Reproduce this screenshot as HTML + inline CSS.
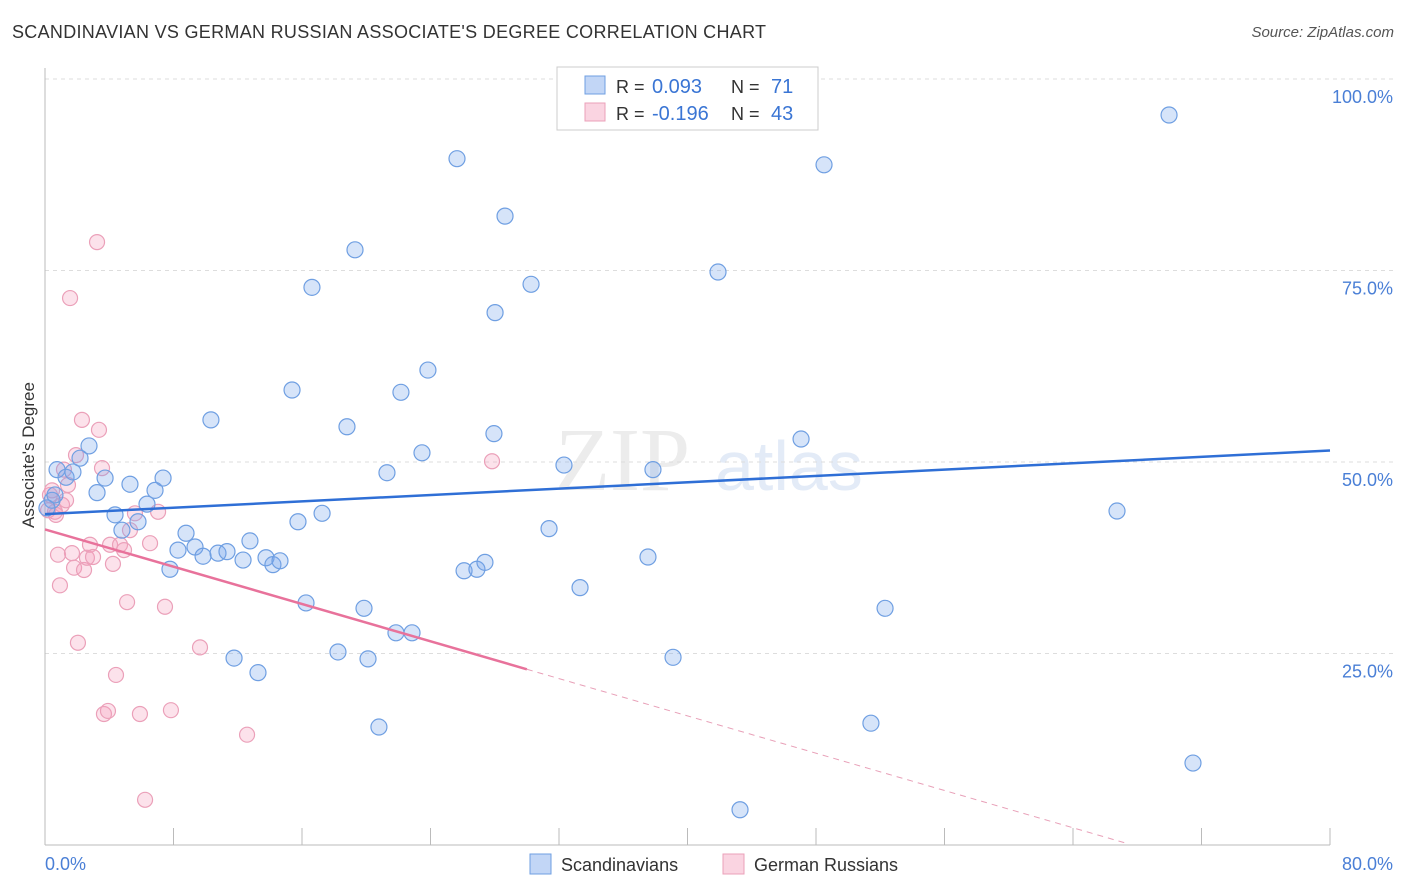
<!DOCTYPE html>
<html><head><meta charset="utf-8"><style>
body{margin:0;background:#fff;font-family:"Liberation Sans",sans-serif;}
#wrap{position:relative;width:1406px;height:892px;overflow:hidden;}
.t{position:absolute;white-space:nowrap;}
</style></head><body>
<div id="wrap">
<div class="t" style="left:12px;top:22px;font-size:18px;color:#333;letter-spacing:0.3px;">SCANDINAVIAN VS GERMAN RUSSIAN ASSOCIATE'S DEGREE CORRELATION CHART</div>
<div class="t" style="right:12px;top:24px;font-size:15px;color:#555;font-style:italic;">Source: ZipAtlas.com</div>
<svg id="svg" width="1406" height="892" style="position:absolute;left:0;top:0"></svg>
</div>
<script>
const xTicks=[0,8,16,24,32,40,48,56,64,72,80];
const yTicks=[25,50,75,100];
const blueX=[];const blueY=[];const pinkX=[];const pinkY=[];
const blueRaw=[[57,470],[66,477],[73,472],[80,458],[89,446],[97,493],[105,478],[115,515],[122,530],[130,484],[138,522],[147,504],[155,490],[163,478],[170,569],[178,550],[186,533],[195,547],[203,556],[211,420],[218,553],[227,552],[234,658],[243,560],[250,541],[258,673],[266,558],[273,565],[280,561],[292,390],[298,522],[306,603],[312,287],[322,513],[338,652],[347,427],[355,250],[364,608],[368,659],[379,727],[387,473],[396,633],[401,392],[412,633],[422,453],[428,370],[457,159],[464,571],[477,569],[485,562],[494,434],[495,313],[505,216],[531,284],[549,529],[564,465],[580,588],[648,557],[653,470],[673,657],[718,272],[740,810],[801,439],[824,165],[871,723],[885,608],[1117,511],[1169,115],[1193,763],[52,500],[47,508],[55,495]];
const pinkRaw=[[50,495],[55,512],[58,555],[62,505],[64,470],[66,500],[68,485],[70,298],[72,553],[74,568],[76,455],[78,643],[82,420],[84,570],[87,558],[90,545],[93,557],[97,242],[99,430],[102,468],[104,714],[108,711],[110,545],[113,564],[116,675],[120,545],[124,550],[127,602],[130,530],[135,513],[140,714],[145,800],[150,543],[158,512],[165,607],[171,710],[200,647],[247,735],[492,461],[48,510],[52,490],[56,515],[60,585]];
blueRaw.forEach(p=>{blueX.push(+((p[0]-45)/1285*80).toFixed(2));blueY.push(+((845-p[1])/766*100).toFixed(1));});
pinkRaw.forEach(p=>{pinkX.push(+((p[0]-45)/1285*80).toFixed(2));pinkY.push(+((845-p[1])/766*100).toFixed(1));});
const blueTrend=[43.2,51.5];const pinkTrend=[41.2,0.3];
const X=v=>45+v/80*1285, Y=v=>845-v/100*766;
const svg=document.getElementById('svg');const NS='http://www.w3.org/2000/svg';
function el(tag,a,p){const e=document.createElementNS(NS,tag);for(const k in a)e.setAttribute(k,a[k]);(p||svg).appendChild(e);return e;}
let w=el('text',{x:555,y:490,'font-size':90,'font-family':'Liberation Serif,serif',fill:'#ececec'});w.textContent='ZIP';


let w2=el('text',{x:715,y:490,'font-size':70,'font-family':'Liberation Sans,sans-serif',fill:'#e3ebf7'});w2.textContent='atlas';


yTicks.forEach(t=>{const g=el('line',{x1:45,x2:1395,y1:Y(t),y2:Y(t),stroke:'#ddd','stroke-dasharray':'4,4'});


const l=el('text',{x:1393,y:Y(t)+24,'text-anchor':'end','font-size':18,fill:'#4a7fd6','font-family':'Liberation Sans,sans-serif'});l.textContent=t.toFixed(1)+'%';

});
let ax=el('line',{x1:45,x2:45,y1:68,y2:845,stroke:'#bbb'});


let bx=el('line',{x1:45,x2:1330,y1:845,y2:845,stroke:'#bbb'});


xTicks.forEach(t=>{const k=el('line',{x1:X(t),x2:X(t),y1:828,y2:845,stroke:'#bbb'});

});
[[0,'start',45],[80,'end',1393]].forEach(a=>{const l=el('text',{x:a[2],y:870,'text-anchor':a[1],'font-size':18,fill:'#4a7fd6','font-family':'Liberation Sans,sans-serif'});l.textContent=a[0].toFixed(1)+'%';

});
let yt=el('text',{x:34,y:455,'text-anchor':'middle','font-size':17,fill:'#333',transform:'rotate(-90 34 455)','font-family':'Liberation Sans,sans-serif'});yt.textContent="Associate's Degree";


pinkX.forEach((x,i)=>{const c=el('circle',{cx:X(x),cy:Y(pinkY[i]),r:7.5,fill:'rgba(244,160,188,0.3)',stroke:'#eba0b9','stroke-width':1.2});

});
blueX.forEach((x,i)=>{const c=el('circle',{cx:X(x),cy:Y(blueY[i]),r:8,fill:'rgba(120,165,235,0.3)',stroke:'#6f9fe2','stroke-width':1.2});

});
let bl=el('line',{x1:X(0),y1:Y(blueTrend[0]),x2:X(80),y2:Y(blueTrend[1]),stroke:'#2f6fd6','stroke-width':2.5});


const pEnd=30,pv=pinkTrend[0]+(pinkTrend[1]-pinkTrend[0])*pEnd/67.2;
let pl=el('line',{x1:X(0),y1:Y(pinkTrend[0]),x2:X(pEnd),y2:Y(pv),stroke:'#e8729b','stroke-width':2.5});


let pd=el('line',{x1:X(pEnd),y1:Y(pv),x2:X(67.2),y2:Y(pinkTrend[1]),stroke:'#e8a0b8','stroke-width':1,'stroke-dasharray':'6,5'});


let lg=el('g',{});


el('rect',{x:557,y:67,width:261,height:63,fill:'#fff',stroke:'#ccc'},lg);
el('rect',{x:585,y:76,width:20,height:18,fill:'rgba(120,165,235,0.45)',stroke:'#6f9fe2'},lg);
el('rect',{x:585,y:103,width:20,height:18,fill:'rgba(244,160,188,0.45)',stroke:'#eba0b9'},lg);
[[93,'0.093','71'],[120,'-0.196','43']].forEach(r=>{
let a=el('text',{x:616,y:r[0],'font-size':18,fill:'#333','font-family':'Liberation Sans,sans-serif'},lg);a.textContent='R = ';
let b=el('text',{x:652,y:r[0],'font-size':20,fill:'#3a75d4','font-family':'Liberation Sans,sans-serif'},lg);b.textContent=r[1];
let c=el('text',{x:731,y:r[0],'font-size':18,fill:'#333','font-family':'Liberation Sans,sans-serif'},lg);c.textContent='N = ';
let d=el('text',{x:771,y:r[0],'font-size':20,fill:'#3a75d4','font-family':'Liberation Sans,sans-serif'},lg);d.textContent=r[2];});
let bl2=el('g',{});


el('rect',{x:530,y:854,width:21,height:20,fill:'rgba(120,165,235,0.45)',stroke:'#6f9fe2'},bl2);
el('rect',{x:723,y:854,width:21,height:20,fill:'rgba(244,160,188,0.45)',stroke:'#eba0b9'},bl2);
let s1=el('text',{x:561,y:871,'font-size':18,fill:'#333','font-family':'Liberation Sans,sans-serif'},bl2);s1.textContent='Scandinavians';
let s2=el('text',{x:754,y:871,'font-size':18,fill:'#333','font-family':'Liberation Sans,sans-serif'},bl2);s2.textContent='German Russians';
</script>
</body></html>
